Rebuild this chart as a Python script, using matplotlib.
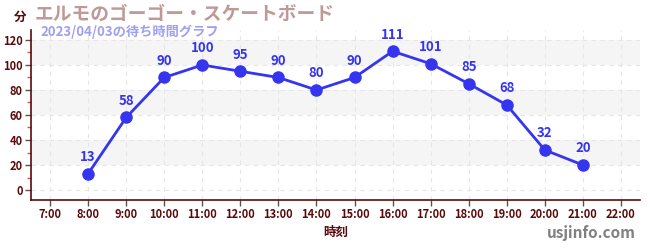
import matplotlib
matplotlib.use("Agg")
import matplotlib.pyplot as plt
from matplotlib.ticker import MultipleLocator

plt.rcParams['font.family'] = ['Noto Sans CJK JP', 'DejaVu Sans']

hours = [8, 9, 10, 11, 12, 13, 14, 15, 16, 17, 18, 19, 20, 21]
waits = [13, 58, 90, 100, 95, 90, 80, 90, 111, 101, 85, 68, 32, 20]
tick_hours = list(range(7, 23))
tick_labels = [f"{h}:00" for h in tick_hours]
title = "エルモのゴーゴー・スケートボード"
subtitle = "2023/04/03の待ち時間グラフ"

fig = plt.figure(figsize=(6.5, 2.5), dpi=100)
ax = fig.add_axes([31/650, 50/250, 609/650, 170/250])
ax.set_xlim(6.5, 22.5)
ax.set_ylim(-8, 128)

for lo in (20, 60, 100):
    ax.axhspan(lo, lo + 20, color='#f5f5f5', zorder=0, lw=0)

ax.set_xticks(tick_hours)
ax.set_xticklabels(tick_labels)
ax.set_yticks(range(0, 121, 20))
ax.yaxis.set_minor_locator(MultipleLocator(10))
ax.grid(True, which='major', color='#e6e6e6', linestyle=(0, (4, 4)), lw=0.8, zorder=0.5)

line_c = '#3535f0'
ax.plot(hours, waits, color=line_c, lw=2, marker='o', ms=8, zorder=3)
for h, w in zip(hours, waits):
    ax.annotate(str(w), (h, w), xytext=(0, 7), textcoords='offset points',
                ha='center', va='bottom', color=line_c, fontsize=9.5, fontweight='bold', zorder=4)

spine_c = '#5a0a0a'
for s in ('top', 'right'):
    ax.spines[s].set_visible(False)
ax.spines['left'].set_color(spine_c)
ax.spines['bottom'].set_color(spine_c)
ax.spines['left'].set_linewidth(1.2)
ax.spines['bottom'].set_linewidth(1.2)
ax.tick_params(axis='both', which='major', colors='#555555', labelcolor=spine_c,
               labelsize=8, length=4, width=1)
ax.tick_params(axis='x', which='major', pad=1.5)
ax.tick_params(axis='y', which='major', pad=2)
ax.tick_params(axis='y', which='minor', colors='#e05050', length=3, width=1)
for lab in ax.get_xticklabels() + ax.get_yticklabels():
    lab.set_fontweight('bold')

ax.set_xlabel("時刻", color=spine_c, fontsize=9, fontweight='bold', labelpad=4)

fig.text(20/650, 1 - 17/250, "分", color=spine_c, fontsize=9, fontweight='bold', ha='center', va='center')
fig.text(35/650, 1 - 14/250, title, color='#c09898', fontsize=13.5, fontweight='bold', ha='left', va='center')
fig.text(40/650, 1 - 32/250, subtitle, color='#a0a0f0', fontsize=9.5, fontweight='bold', ha='left', va='center')
fig.text(636/650, 1 - 233/250, "usjinfo.com", color='#808080', fontsize=11, fontweight='bold', ha='right', va='center')

fig.savefig("out.png", dpi=100)
